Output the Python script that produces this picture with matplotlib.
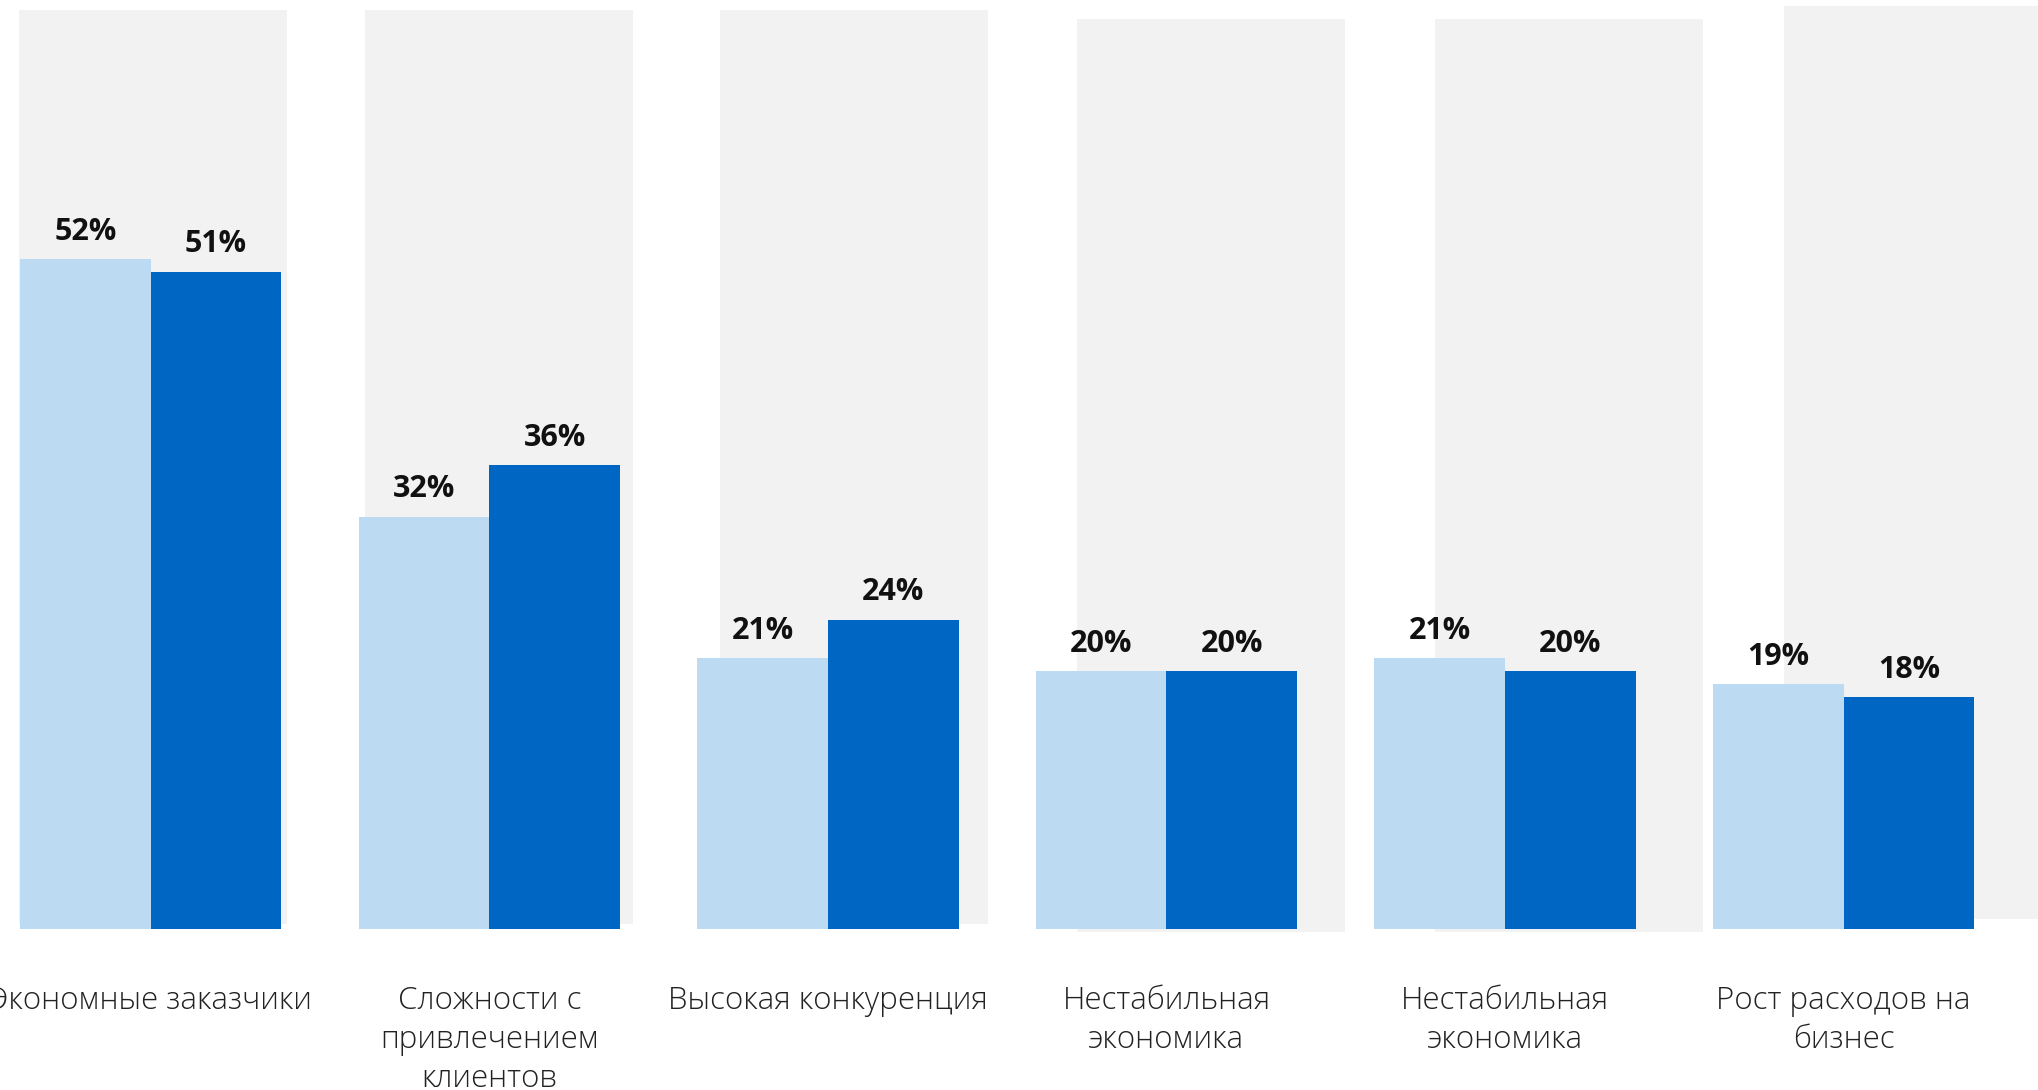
import matplotlib
matplotlib.use('Agg')
import matplotlib.pyplot as plt
import numpy as np

# данные
categories = [
    'Экономные заказчики',
    'Сложности с\nпривлечением\nклиентов',
    'Высокая конкуренция',
    'Нестабильная\nэкономика',
    'Нестабильная\nэкономика',
    'Рост расходов на\nбизнес',
]
series_prev = [52, 32, 21, 20, 21, 19]
series_curr = [51, 36, 24, 20, 20, 18]

LIGHT = '#bcdaf2'
DARK = '#0066c4'
PANEL = '#f2f2f2'

plt.rcParams['font.family'] = ['Open Sans', 'DejaVu Sans']

fig = plt.figure(figsize=(20.38, 10.9), dpi=100)
ax = fig.add_axes([0, 0, 1, 1])

x = np.arange(len(categories))
w = 0.386

# серые подложки, слегка сдвинутые относительно групп
panel_offset = [-0.388, -0.366, -0.319, -0.263, -0.207, -0.175]
panel_w = 0.791
panel_bottom = [0.4, 0.4, 0.4, -0.2, -0.2, 0.8]
panel_top = [71.3, 71.3, 71.3, 70.6, 70.6, 71.6]
for i in x:
    ax.bar(i + panel_offset[i], panel_top[i] - panel_bottom[i], width=panel_w,
           bottom=panel_bottom[i], align='edge', color=PANEL, zorder=0)

ax.bar(x - w / 2, series_prev, width=w, color=LIGHT, zorder=2)
ax.bar(x + w / 2, series_curr, width=w, color=DARK, zorder=2)

for i in x:
    for dx, v in ((-w / 2, series_prev[i]), (w / 2, series_curr[i])):
        ax.annotate(f'{v}%', (i + dx, v), xytext=(0, 14), textcoords='offset points',
                    ha='center', va='baseline', fontsize=22, fontweight='bold',
                    color='#111111', zorder=3)
    ax.annotate(categories[i], (i, 0), xytext=(0, -40), textcoords='offset points',
                ha='center', va='top', fontsize=22.5, fontweight='light',
                color='#222222', linespacing=1.3)

ax.set_xlim(-0.445, 5.574)
ax.set_ylim(-12.5, 72.1)
ax.axis('off')

fig.savefig('out.png', dpi=100)
